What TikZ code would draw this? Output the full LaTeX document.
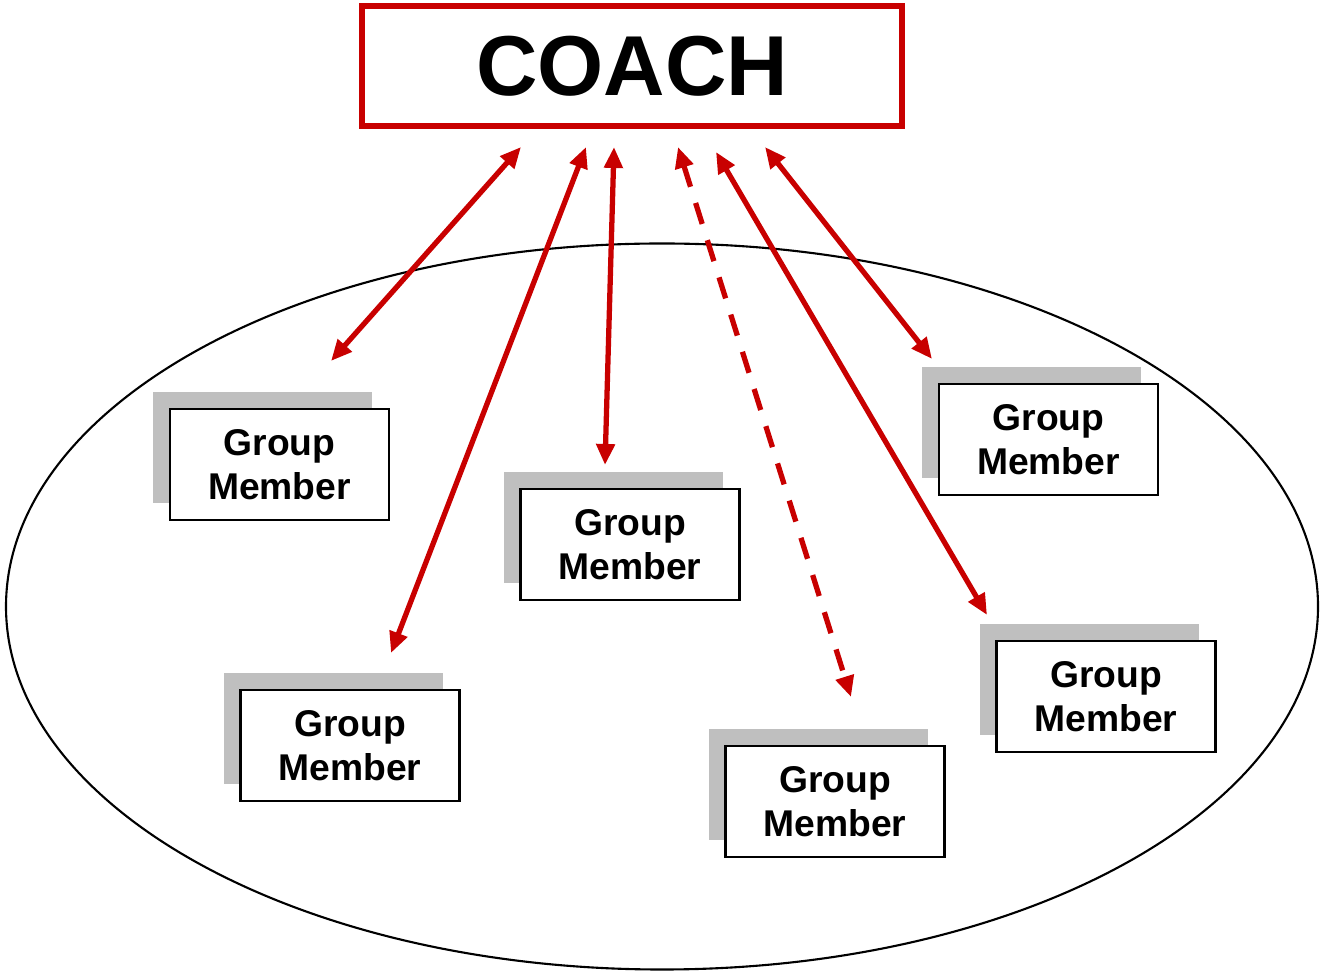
\documentclass[tikz,border=0pt]{standalone}
\usepackage{fontspec}
\setmainfont{Liberation Sans}
\usetikzlibrary{arrows.meta, shadows, shapes.geometric}
\definecolor{coachred}{RGB}{200,0,0}

\tikzset{
  member/.style={draw, fill=white, line width=0.7pt, minimum width=2.19cm, minimum height=1.11cm,
    align=center, inner sep=0pt, font=\bfseries\fontsize{10.6}{12.6}\selectfont,
    general shadow={fill=black!25, shadow xshift=-0.17cm, shadow yshift=0.17cm}},
  link/.style={coachred, line width=1.5pt, {Triangle[length=0.21cm, width=0.18cm]}-{Triangle[length=0.21cm, width=0.18cm]}}
}

\begin{document}
\begin{tikzpicture}
\useasboundingbox (0,0) rectangle (13.2,-9.74);

\node (group) at (6.62,-6.065) [draw, line width=0.6pt, ellipse, minimum width=13.12cm, minimum height=7.26cm, inner sep=0pt] {};

\node (coach) at (6.32,-0.66) [draw=coachred, line width=1.5pt, minimum width=5.40cm, minimum height=1.20cm, font=\bfseries\fontsize{24.2}{28}\selectfont] {COACH};

\node (m1) at (2.795,-4.645) [member] {Group\\Member};
\node (m2) at (6.30,-5.445) [member] {Group\\Member};
\node (m3) at (10.485,-4.395) [member] {Group\\Member};
\node (m4) at (3.50,-7.455) [member] {Group\\Member};
\node (m5) at (8.35,-8.015) [member] {Group\\Member};
\node (m6) at (11.06,-6.965) [member] {Group\\Member};

% arrow ends below the coach
\coordinate (c1) at (5.21,-1.47);
\coordinate (c2) at (5.86,-1.47);
\coordinate (c3) at (6.14,-1.47);
\coordinate (c4) at (6.78,-1.47);
\coordinate (c5) at (7.16,-1.52);
\coordinate (c6) at (7.65,-1.47);

% arrow ends near the members
\coordinate (e1) at (3.31,-3.61);
\coordinate (e4) at (3.91,-6.53);
\coordinate (e2) at (6.05,-4.65);
\coordinate (e5) at (8.51,-6.97);
\coordinate (e6) at (9.87,-6.15);
\coordinate (e3) at (9.32,-3.59);

\draw[link] (c1) -- (e1);
\draw[link] (c2) -- (e4);
\draw[link] (c3) -- (e2);
\draw[link, dash pattern=on 0.22cm off 0.17cm] (c4) -- (e5);
\draw[link] (c5) -- (e6);
\draw[link] (c6) -- (e3);
\end{tikzpicture}
\end{document}
